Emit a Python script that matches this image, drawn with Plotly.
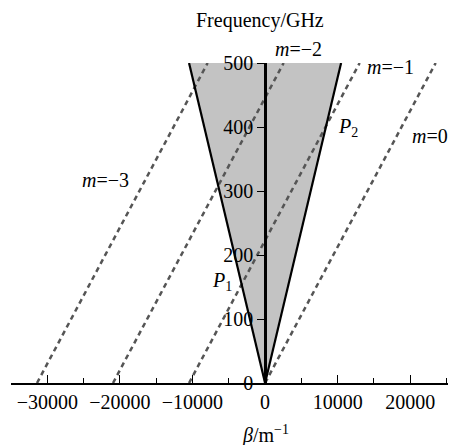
import plotly.graph_objects as go

# ---- data ----
freq_ghz = [0, 500]                    # frequency endpoints (GHz)
light_right_beta = [0, 10472]          # +light line beta (1/m)
light_left_beta = [0, -10472]          # -light line beta (1/m)
m0_beta = [0, 23500]
m1_beta = [-10472, 13028]
m2_beta = [-20944, 2556]
m3_beta = [-31416, -7916]
x_ticks = [-30000, -20000, -10000, 0, 10000, 20000]
y_ticks = [0, 100, 200, 300, 400, 500]

FONT = "Liberation Serif"
FS = 20
fig = go.Figure()

# shaded light cone
fig.add_trace(go.Scatter(
    x=[light_left_beta[1], light_left_beta[0], light_right_beta[1]],
    y=[freq_ghz[1], freq_ghz[0], freq_ghz[1]],
    fill="toself", fillcolor="#c3c3c3", mode="none", hoverinfo="skip"))

# dashed space harmonics
for b in (m0_beta, m1_beta, m2_beta, m3_beta):
    fig.add_trace(go.Scatter(x=b, y=freq_ghz, mode="lines",
                             line=dict(color="#555555", width=2.5, dash="5px,4px")))

# light lines
for b in (light_right_beta, light_left_beta):
    fig.add_trace(go.Scatter(x=b, y=freq_ghz, mode="lines",
                             line=dict(color="black", width=2.2)))

x_min, x_max = -35000, 25200
fig.update_layout(
    width=450, height=445, showlegend=False,
    paper_bgcolor="white", plot_bgcolor="white",
    margin=dict(l=11, r=2, t=63, b=62),
    font=dict(family=FONT, size=FS, color="black"),
    xaxis=dict(range=[x_min, x_max], tickvals=x_ticks,
               ticktext=[f"{v:d}".replace("-", "−") for v in x_ticks],
               showgrid=False, zeroline=False, showline=True,
               linecolor="black", linewidth=1.5,
               ticks="inside", ticklen=8, tickwidth=1.3, tickcolor="black",
               minor=dict(ticks="inside", dtick=5000, tick0=0, ticklen=5,
                          tickwidth=1.3, tickcolor="black"),
               tickfont=dict(family=FONT, size=FS)),
    yaxis=dict(range=[0, 500], tickvals=y_ticks, anchor="free",
               position=(0 - x_min) / (x_max - x_min),
               showgrid=False, zeroline=False, showline=True,
               linecolor="black", linewidth=2.5,
               ticks="outside", ticklen=7, tickwidth=1.3, tickcolor="black",
               tickfont=dict(family=FONT, size=FS)),
)

ann = [
    ("<i>m</i>=−3", -22050, 317),
    ("<i>m</i>=−1", 17211, 494),
    ("<i>m</i>=0", 22721, 386),
    ("<i>P</i><sub>2</sub>", 11425, 400),
    ("<i>P</i><sub>1</sub>", -5933, 158),
]
for t, x, y in ann:
    fig.add_annotation(text=t, x=x, y=y, xref="x", yref="y", showarrow=False,
                       font=dict(family=FONT, size=FS, color="black"))

# texts outside the data range, positioned in paper fractions of the plot area (437 x 320 px)
def px(xp, yp):
    return (xp - 11) / 437, (383 - yp) / 320

for t, (xp, yp) in [("<i>m</i>=−2", (298, 49)),
                    ("Frequency/GHz", (260, 20)),
                    ("<i>β</i>/m<sup>−1</sup>", (265, 434))]:
    xf, yf = px(xp, yp)
    fig.add_annotation(text=t, x=xf, y=yf, xref="paper", yref="paper",
                       yanchor="middle", showarrow=False,
                       font=dict(family=FONT, size=FS))

fig.write_html("out.html", config={"displayModeBar": False},
               post_script="document.body.style.margin='0px';")
